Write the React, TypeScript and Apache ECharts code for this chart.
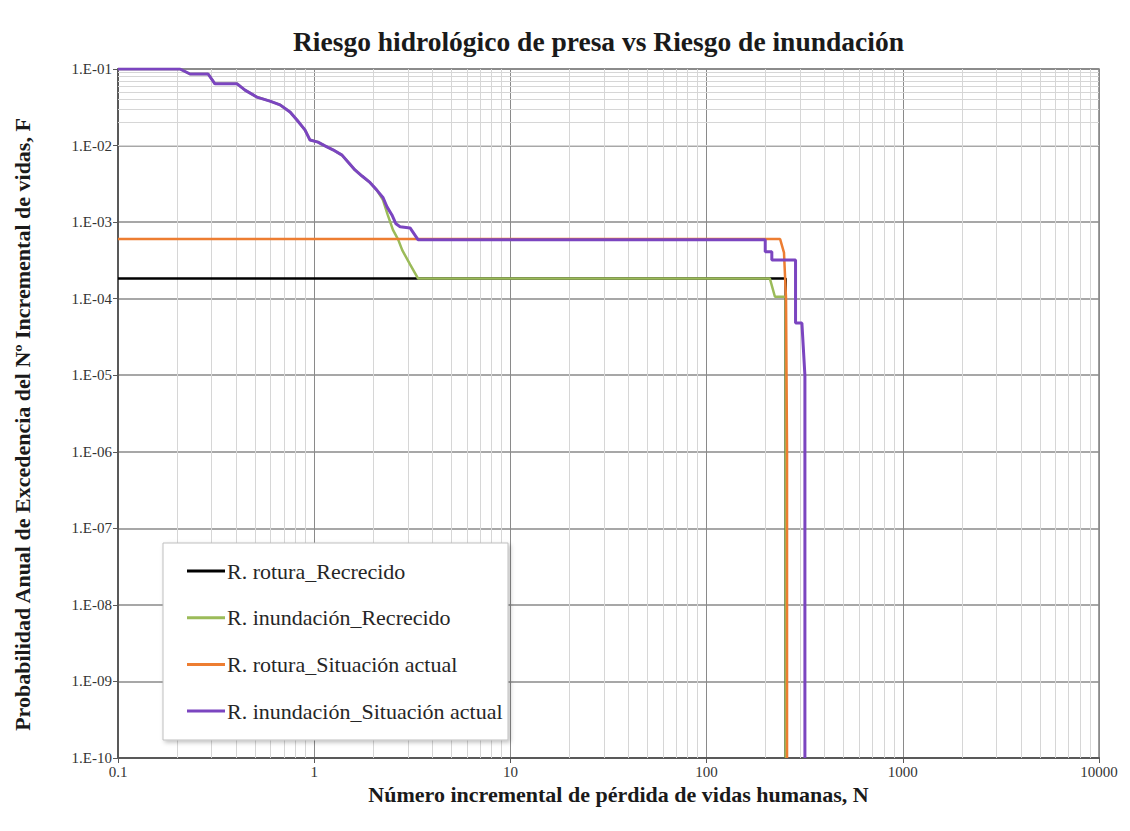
import React, { useEffect, useRef } from "react";
import * as echarts from "echarts";

// ---------- tick labels ----------
const xTickLabels = ["0.1", "1", "10", "100", "1000", "10000"];
const yTickLabels = ["1.E-01", "1.E-02", "1.E-03", "1.E-04", "1.E-05", "1.E-06", "1.E-07", "1.E-08", "1.E-09", "1.E-10"];
const minorMultipliers = [2, 3, 4, 5, 6, 7, 8, 9];
const xDecades = [0.1, 1, 10, 100, 1000];
const yDecades = [1e-10, 1e-9, 1e-8, 1e-7, 1e-6, 1e-5, 1e-4, 1e-3, 1e-2];

// ---------- series ----------
const seriesNames = [
  "R. rotura_Recrecido",
  "R. inundación_Recrecido",
  "R. rotura_Situación actual",
  "R. inundación_Situación actual",
];
const seriesColors = ["#000000", "#9bbb59", "#ed7d31", "#7b45c0"];

// R. rotura_Recrecido
const roturaRecN = [0.1, 246, 253, 253];
const roturaRecF = [1.84e-4, 1.84e-4, 1.84e-4, 1e-10];

// R. inundación_Recrecido
const inundRecN = [0.1, 0.207, 0.233, 0.288, 0.312, 0.405, 0.444, 0.51, 0.595, 0.67, 0.753, 0.817, 0.897, 0.952, 1.045, 1.135, 1.247, 1.386, 1.487, 1.614, 1.753, 1.923, 2.09, 2.24, 2.37, 2.52, 2.68, 2.81, 3.08, 3.38, 210, 223, 253, 253];
const inundRecF = [0.1, 0.1, 0.086, 0.086, 0.064, 0.064, 0.053, 0.043, 0.038, 0.034, 0.0275, 0.0216, 0.016, 0.0118, 0.0111, 0.0099, 0.0088, 0.0075, 0.0061, 0.0048, 0.004, 0.0033, 0.0026, 0.00195, 0.00124, 0.00079, 0.00059, 0.00043, 0.00028, 1.84e-4, 1.84e-4, 1.06e-4, 1.06e-4, 1e-10];

// R. rotura_Situación actual
const roturaActN = [0.1, 237, 248, 254, 257, 257];
const roturaActF = [6.0e-4, 6.0e-4, 4.0e-4, 1.0e-4, 1e-6, 1e-10];

// R. inundación_Situación actual
const inundActN = [0.1, 0.207, 0.233, 0.288, 0.312, 0.405, 0.444, 0.51, 0.595, 0.67, 0.753, 0.817, 0.897, 0.952, 1.045, 1.135, 1.247, 1.386, 1.487, 1.614, 1.753, 1.923, 2.09, 2.24, 2.35, 2.49, 2.61, 2.74, 3.08, 3.38, 199, 199, 215, 215, 284, 284, 306, 317, 317];
const inundActF = [0.1, 0.1, 0.086, 0.086, 0.064, 0.064, 0.053, 0.043, 0.038, 0.034, 0.0275, 0.0216, 0.016, 0.0118, 0.0111, 0.0099, 0.0088, 0.0075, 0.0061, 0.0048, 0.004, 0.0033, 0.0026, 0.0021, 0.00158, 0.00124, 0.00095, 0.00087, 0.00084, 0.00059, 0.00059, 0.00041, 0.00041, 0.00032, 0.00032, 4.8e-5, 4.8e-5, 1e-5, 1e-10];

const seriesN = [roturaRecN, inundRecN, roturaActN, inundActN];
const seriesF = [roturaRecF, inundRecF, roturaActF, inundActF];

const FONT = "'Liberation Serif', 'DejaVu Serif', serif";

export default function App() {
  const ref = useRef<HTMLDivElement>(null);

  useEffect(() => {
    document.body.style.margin = "0";
    if (!ref.current) return;
    const chart = echarts.init(ref.current, undefined, { renderer: "svg" });

    const minorX = xDecades.flatMap((d) => minorMultipliers.map((m) => d * m));
    const minorY = yDecades.flatMap((d) => minorMultipliers.map((m) => d * m));

    const dataSeries = seriesNames.map((name, i) => ({
      type: "line",
      name,
      data: seriesN[i].map((n, j) => [n, seriesF[i][j]]),
      showSymbol: false,
      symbol: "none",
      lineStyle: { color: seriesColors[i], width: i === 3 ? 3 : 2.5 },
      itemStyle: { color: seriesColors[i] },
      z: 5 + i,
    }));

    chart.setOption({
      animation: false,
      backgroundColor: "#ffffff",
      title: {
        text: "Riesgo hidrológico de presa vs Riesgo de inundación",
        left: 288,
        top: 22,
        textStyle: { fontFamily: FONT, fontSize: 27.5, fontWeight: "bold", color: "#1a1a1a" },
      },
      grid: {
        left: 118,
        right: 31,
        top: 69,
        bottom: 73,
        show: true,
        borderColor: "#7f7f7f",
        borderWidth: 1.5,
        backgroundColor: "transparent",
      },
      legend: {
        data: seriesNames,
        orient: "vertical",
        left: 187,
        top: 560,
        padding: 0,
        itemGap: 24.7,
        itemWidth: 38,
        itemHeight: 3,
        icon: "rect",
        textStyle: { fontFamily: FONT, fontSize: 22, color: "#262626", padding: [0, 0, 0, -3] },
        z: 10,
      },
      graphic: [
        {
          type: "rect",
          z: 8,
          shape: { x: 163, y: 543, width: 345, height: 197 },
          style: {
            fill: "#ffffff",
            stroke: "#bfbfbf",
            lineWidth: 1,
            shadowBlur: 4,
            shadowColor: "rgba(0,0,0,0.25)",
            shadowOffsetX: 2,
            shadowOffsetY: 2,
          },
        },
      ],
      xAxis: {
        type: "log",
        logBase: 10,
        min: 0.1,
        max: 10000,
        splitNumber: 5,
        name: "Número incremental de pérdida de vidas humanas, N",
        nameLocation: "middle",
        nameGap: 17,
        nameTextStyle: { fontFamily: FONT, fontSize: 22, fontWeight: "bold", color: "#1a1a1a", padding: [0, 0, 0, 20] },
        axisLine: { show: true, lineStyle: { color: "#595959", width: 2 } },
        axisTick: { show: true, inside: false, length: 5, lineStyle: { color: "#595959" } },
        axisLabel: {
          fontFamily: FONT,
          fontSize: 15,
          color: "#333333",
          margin: 6,
          formatter: (v: number) => xTickLabels[Math.round(Math.log10(v)) + 1] ?? "",
        },
        splitLine: { show: true, lineStyle: { color: "#8a8a8a", width: 1 } },
      },
      yAxis: {
        type: "log",
        logBase: 10,
        min: 1e-10,
        max: 0.1,
        splitNumber: 9,
        name: "Probabilidad Anual de Excedencia del Nº Incremental de vidas, F",
        nameLocation: "middle",
        nameGap: 85,
        nameTextStyle: { fontFamily: FONT, fontSize: 22, fontWeight: "bold", color: "#1a1a1a", padding: [0, 22, 0, 0] },
        axisLine: { show: true, lineStyle: { color: "#595959", width: 2 } },
        axisTick: { show: true, inside: false, length: 5, lineStyle: { color: "#595959" } },
        axisLabel: {
          fontFamily: FONT,
          fontSize: 15,
          color: "#333333",
          margin: 6,
          formatter: (v: number) => yTickLabels[-Math.round(Math.log10(v)) - 1] ?? "",
        },
        splitLine: { show: true, lineStyle: { color: "#8a8a8a", width: 1.5 } },
      },
      series: [
        {
          type: "line",
          name: "minor-grid",
          data: [],
          silent: true,
          z: 1,
          markLine: {
            silent: true,
            animation: false,
            symbol: ["none", "none"],
            label: { show: false },
            emphasis: { disabled: true },
            lineStyle: { color: "#d6d6d6", width: 1, type: "solid" },
            data: [
              ...minorX.map((v) => ({ xAxis: v })),
              ...minorY.map((v) => ({ yAxis: v })),
            ],
          },
        },
        ...dataSeries,
      ],
    });

    return () => chart.dispose();
  }, []);

  return <div ref={ref} style={{ width: 1130, height: 831 }} />;
}
